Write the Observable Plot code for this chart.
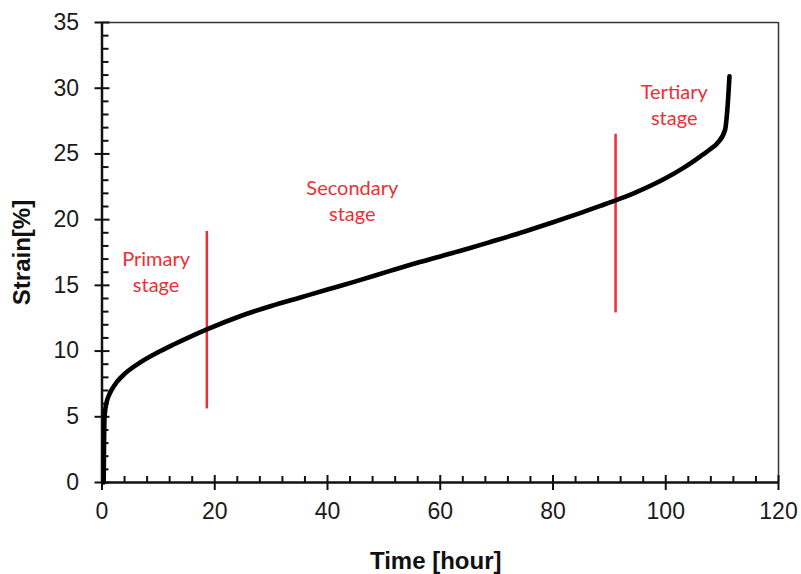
<!DOCTYPE html>
<html><head><meta charset="utf-8">
<script src="https://cdn.jsdelivr.net/npm/d3@7"></script>
<script src="https://cdn.jsdelivr.net/npm/@observablehq/plot@0.6"></script>
<style>html,body{margin:0;padding:0;background:#fff;}</style>
</head><body><div id="chart"></div>
<script>
// Creep curve: time [hour] vs strain [%]
const timeHours = [0.3, 0.35, 0.45, 0.8, 1.2, 1.7, 2.6, 4.0, 6.4, 9.8, 12.7, 15.7, 18.6, 24.6, 30, 35.2, 40, 45, 51.1, 55, 60, 65, 68.9, 75, 80, 84.8, 88.4, 91.0, 94.3, 100.2, 103, 106.1, 108, 109.1, 110.5, 111.0, 111.3];
const strainPct = [0, 2.5, 5.0, 6.08, 6.6, 7.05, 7.63, 8.26, 9.03, 9.88, 10.5, 11.1, 11.65, 12.67, 13.43, 14.08, 14.68, 15.3, 16.1, 16.6, 17.2, 17.8, 18.3, 19.1, 19.8, 20.5, 21.05, 21.45, 22.0, 23.2, 23.9, 24.8, 25.4, 25.8, 26.8, 28.8, 30.9];

// Stage boundaries (red vertical lines)
const boundaryTime = [18.6, 91.1];
const boundaryLow = [5.6, 12.9];
const boundaryHigh = [19.1, 26.5];

// Stage labels
const stageLabels = ["Primary\nstage", "Secondary\nstage", "Tertiary\nstage"];
const stageLabelX = [9.6, 44.4, 101.5];
const stageLabelY = [16.1, 21.5, 28.8];

// Ticks
const xMajorTicks = [0, 20, 40, 60, 80, 100, 120];
const xMinorTicks = [4, 8, 12, 16, 24, 28, 32, 36, 44, 48, 52, 56, 64, 68, 72, 76, 84, 88, 92, 96, 104, 108, 112, 116];
const yMajorTicks = [0, 5, 10, 15, 20, 25, 30, 35];
const yMinorTicks = [1, 2, 3, 4, 6, 7, 8, 9, 11, 12, 13, 14, 16, 17, 18, 19, 21, 22, 23, 24, 26, 27, 28, 29, 31, 32, 33, 34];

const xTitle = "Time [hour]";
const yTitle = "Strain[%]";

const curve = timeHours.map((t, i) => ({t, s: strainPct[i]}));
const boundaries = boundaryTime.map((t, i) => ({t, lo: boundaryLow[i], hi: boundaryHigh[i]}));
const labels = stageLabels.map((text, i) => ({text, x: stageLabelX[i], y: stageLabelY[i]}));

const red = "#ec2f37";
const tickFont = "'Liberation Sans', Arial, sans-serif";

const chart = Plot.plot({
  width: 801,
  height: 574,
  marginLeft: 101.5,
  marginRight: 23,
  marginTop: 22,
  marginBottom: 92,
  x: {domain: [0, 120], axis: null},
  y: {domain: [0, 35], axis: null},
  style: {background: "#fff", fontFamily: tickFont, overflow: "visible"},
  marks: [
    // frame top and right
    Plot.ruleY([35], {x1: 0, x2: 120, stroke: "#333", strokeWidth: 1.5}),
    Plot.ruleX([120], {y1: 0, y2: 35, stroke: "#333", strokeWidth: 1.5}),
    // minor ticks (inward)
    Plot.ruleX(xMinorTicks, {x: d => d, y1: 0, y2: 0, insetTop: -6, stroke: "#111", strokeWidth: 2}),
    Plot.ruleY(yMinorTicks, {y: d => d, x1: 0, x2: 0, insetRight: -7, stroke: "#111", strokeWidth: 2}),
    // major ticks (crossing)
    Plot.ruleX(xMajorTicks, {x: d => d, y1: 0, y2: 0, insetTop: -7, insetBottom: -8, stroke: "#111", strokeWidth: 2}),
    Plot.ruleY(yMajorTicks, {y: d => d, x1: 0, x2: 0, insetLeft: -7, insetRight: -8, stroke: "#111", strokeWidth: 2}),
    // axis lines
    Plot.ruleX([0], {y1: 0, y2: 35, stroke: "#111", strokeWidth: 2.5}),
    Plot.ruleY([0], {x1: 0, x2: 120, stroke: "#111", strokeWidth: 2.5}),
    // tick labels
    Plot.text(xMajorTicks, {x: d => d, y: 0, dy: 29, text: d => String(d), fontSize: 23, fill: "#1a1a1a"}),
    Plot.text(yMajorTicks, {x: 0, y: d => d, dx: -23, textAnchor: "end", text: d => String(d), fontSize: 23, fill: "#1a1a1a"}),
    // red boundaries
    Plot.ruleX(boundaries, {x: "t", y1: "lo", y2: "hi", stroke: red, strokeWidth: 2.5}),
    // curve
    Plot.line(curve, {x: "t", y: "s", curve: "monotone-x", stroke: "#000", strokeWidth: 4.6, strokeLinecap: "round"}),
    // stage labels
    Plot.text(labels, {x: "x", y: "y", text: "text", fill: red, fontSize: 20, lineHeight: 1.3, fontFamily: "Lato, 'Open Sans', sans-serif"}),
    // axis titles
    Plot.text([xTitle], {frameAnchor: "bottom", textAnchor: "middle", lineAnchor: "middle", dx: -4.5, dy: 79, text: d => d, fontSize: 24, fontWeight: "bold", fill: "#111"}),
    Plot.text([yTitle], {frameAnchor: "left", textAnchor: "middle", lineAnchor: "middle", dx: -79.5, rotate: -90, text: d => d, fontSize: 24, fontWeight: "bold", fill: "#111"})
  ]
});
document.getElementById("chart").appendChild(chart);
</script>
</body></html>
